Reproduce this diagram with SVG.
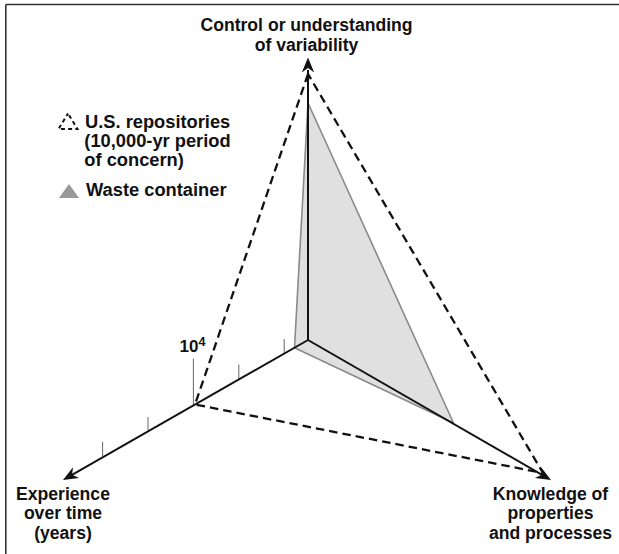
<svg xmlns="http://www.w3.org/2000/svg" width="619" height="554" viewBox="0 0 619 554">
  <style>
    .lbl { font-family: "Liberation Sans", Arial, Helvetica, sans-serif; font-weight: bold; fill: #111; }
    .axis-lbl { font-size: 17.6px; text-anchor: middle; }
    .leg { font-size: 18.3px; }
    .scale { font-size: 17px; }
    .sup { font-size: 12.5px; }
    .axis { stroke: #111; stroke-width: 2; fill: none; }
    .tick { stroke: #666; stroke-width: 1; }
    .dash { stroke: #111; stroke-width: 2.3; fill: none; stroke-dasharray: 8.5 5; }
    .head { fill: #111; }
  </style>
  <defs>
    <!-- swept arrowhead, tip at the origin pointing along +x -->
    <path id="arrowhead" d="M0,0 L-15,-6.2 L-10.5,0 L-15,6.2 Z"/>
  </defs>

  <rect width="619" height="554" fill="#fff"/>

  <!-- frame -->
  <g id="frame" stroke="#333" stroke-width="1.6" fill="none">
    <line x1="5.8" y1="4.5" x2="619" y2="4.5"/>
    <line x1="5.8" y1="4.5" x2="5.8" y2="554"/>
  </g>

  <!-- waste container profile -->
  <g id="waste-container">
    <polygon points="308,103 453.5,423 294.5,347.8" fill="#e0e0e0" stroke="#8a8a8a" stroke-width="1.6" stroke-linejoin="round"/>
  </g>

  <!-- tick marks on the time axis -->
  <g id="ticks" class="tick">
    <line x1="102.6" y1="442" x2="102.6" y2="456"/>
    <line x1="148" y1="417" x2="148" y2="430.5"/>
    <line x1="193.4" y1="358.5" x2="193.4" y2="405"/>
    <line x1="238.8" y1="364.5" x2="238.8" y2="379"/>
    <line x1="284.2" y1="339" x2="284.2" y2="353.5"/>
  </g>

  <!-- U.S. repositories profile -->
  <g id="us-repositories">
    <path class="dash" d="M308,74 L195,404.5 L543,473 Z" stroke-linejoin="miter"/>
  </g>

  <!-- axes -->
  <g id="connectors">
    <line class="axis" x1="308" y1="340" x2="308" y2="70"/>
    <line class="axis" x1="308" y1="340" x2="72" y2="474.8"/>
    <line class="axis" x1="308" y1="340" x2="542" y2="474.8"/>
    <use href="#arrowhead" class="head" transform="translate(308,57.5) rotate(-90)"/>
    <use href="#arrowhead" class="head" transform="translate(63,480) rotate(150.3)"/>
    <use href="#arrowhead" class="head" transform="translate(551,480) rotate(29.95)"/>
  </g>

  <!-- axis labels -->
  <g id="axis-control">
    <text class="lbl axis-lbl" x="306.5" y="30.5">Control or understanding</text>
    <text class="lbl axis-lbl" x="306.5" y="51">of variability</text>
  </g>
  <g id="axis-experience">
    <text class="lbl axis-lbl" x="63" y="499.5">Experience</text>
    <text class="lbl axis-lbl" x="63" y="519">over time</text>
    <text class="lbl axis-lbl" x="63" y="538.5">(years)</text>
  </g>
  <g id="axis-knowledge">
    <text class="lbl axis-lbl" x="550.5" y="499.5">Knowledge of</text>
    <text class="lbl axis-lbl" x="550.5" y="519">properties</text>
    <text class="lbl axis-lbl" x="550.5" y="538.5">and processes</text>
  </g>
  <g id="scale-label">
    <text class="lbl scale" x="179.5" y="352">10<tspan class="sup" dy="-6.5">4</tspan></text>
  </g>

  <!-- legend -->
  <g id="legend">
    <polygon points="68,113.5 58.5,129 77.5,129" fill="none" stroke="#111" stroke-width="2" stroke-dasharray="4 3.2" stroke-dashoffset="1"/>
    <text class="lbl leg" x="85" y="128">U.S. repositories</text>
    <text class="lbl leg" x="84.3" y="147">(10,000-yr period</text>
    <text class="lbl leg" x="84.3" y="166">of concern)</text>
    <polygon points="69,184 59,198 79,198" fill="#999"/>
    <text class="lbl leg" x="86" y="195.5">Waste container</text>
  </g>
</svg>
